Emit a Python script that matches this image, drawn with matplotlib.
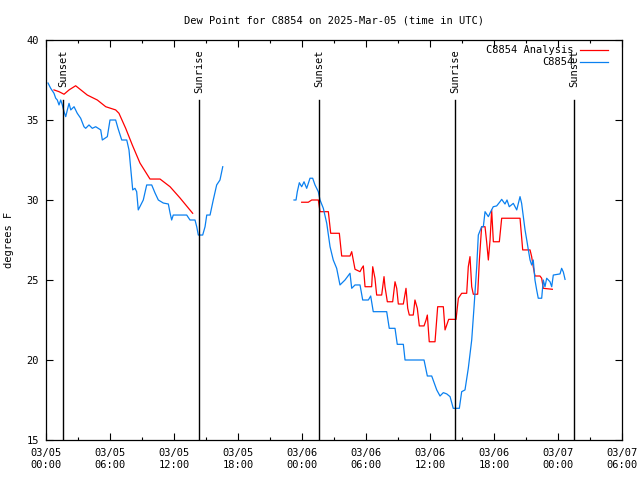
import datetime as dt
import numpy as np
import matplotlib
matplotlib.use("Agg")
import matplotlib.pyplot as plt
import matplotlib.dates as mdates

BASE = dt.datetime(2025, 3, 5, 0, 0)

# Observed dew point (C8854), hours since 03/05 00:00 UTC, degrees F
obs1_h = [0.19, 0.44, 0.75, 0.91, 1.06, 1.22, 1.38, 1.53, 1.69, 1.85, 2.0, 2.16, 2.32, 2.63, 2.93,
          3.25, 3.56, 3.72, 4.03, 4.34, 4.66, 5.13, 5.28, 5.75, 6.0, 6.53, 6.75, 7.10, 7.57, 7.78,
          8.13, 8.34, 8.50, 8.65, 9.12, 9.44, 9.91, 10.22, 10.53, 11.0, 11.47, 11.63, 11.78, 11.93,
          12.56, 13.19, 13.5, 13.97, 14.13, 14.28, 14.69, 14.91, 15.07, 15.38, 15.68, 16.0, 16.31, 16.57]
obs1_v = [37.31, 36.98, 36.67, 36.36, 36.25, 35.94, 36.25, 35.94, 35.52, 35.21, 35.63, 36.04, 35.63, 35.83, 35.42,
          35.11, 34.58, 34.48, 34.69, 34.48, 34.58, 34.38, 33.75, 33.96, 35.0, 35.0, 34.48, 33.75, 33.75, 33.13,
          30.63, 30.73, 30.52, 29.38, 30.0, 30.94, 30.94, 30.44, 30.0, 29.81, 29.75, 29.19, 28.75, 29.06,
          29.06, 29.06, 28.75, 28.75, 28.33, 27.81, 27.81, 28.33, 29.06, 29.06, 30.0, 30.94, 31.25, 32.08]

obs2_h = [23.25, 23.44, 23.56, 23.75, 23.97, 24.19, 24.44, 24.75, 25.0, 25.22, 25.53, 25.69, 26.0, 26.32,
          26.63, 26.93, 27.25, 27.56, 28.03, 28.5, 28.66, 28.97, 29.44, 29.69, 30.22, 30.44, 30.68, 31.94,
          32.18, 32.72, 32.93, 33.5, 33.66, 35.44, 35.75, 36.16, 36.63, 36.94, 37.25, 37.57, 37.88, 38.18,
          38.75, 38.97, 39.28, 39.59, 39.91, 40.13, 40.38, 40.53, 40.84, 41.0, 41.16, 41.47, 41.69, 41.93,
          42.25, 42.56, 42.72, 43.03, 43.22, 43.43, 43.81, 44.13, 44.44, 44.59, 44.75, 44.91, 45.07, 45.22,
          45.38, 45.53, 45.68, 45.84, 46.0, 46.15, 46.47, 46.62, 46.78, 46.94, 47.25, 47.41, 47.56, 48.19,
          48.34, 48.5, 48.66]
obs2_v = [30.0, 30.0, 30.52, 31.08, 30.83, 31.14, 30.73, 31.36, 31.36, 30.94, 30.52, 30.0, 29.48, 28.54,
          27.08, 26.25, 25.73, 24.69, 25.0, 25.42, 24.48, 24.69, 24.69, 23.75, 23.75, 24.0, 23.02, 23.02,
          21.98, 21.98, 20.98, 20.98, 20.0, 20.0, 19.0, 19.0, 18.13, 17.75, 17.96, 17.88, 17.71, 16.98,
          16.98, 18.02, 18.13, 19.48, 21.25, 23.33, 25.83, 27.81, 28.33, 28.33, 29.27, 28.96, 29.27, 29.58,
          29.63, 29.89, 30.04, 29.75, 30.0, 29.58, 29.79, 29.38, 30.21, 29.79, 28.96, 28.13, 27.5, 26.88,
          26.25, 25.94, 26.25, 25.0, 24.38, 23.86, 23.86, 25.0, 24.58, 25.11, 24.89, 24.58, 25.31, 25.38,
          25.73, 25.5, 25.04]

# Analysis dew point (C8854 Analysis)
ana1_h = [0.75, 1.22, 1.69, 2.16, 2.78, 3.87, 4.81, 5.60, 6.53, 6.84, 7.47, 8.09, 8.81, 9.75, 10.69,
          11.63, 12.56, 13.75]
ana1_v = [36.88, 36.77, 36.61, 36.88, 37.14, 36.56, 36.25, 35.83, 35.63, 35.42, 34.48, 33.44, 32.31, 31.31,
          31.31, 30.83, 30.13, 29.17]

ana2_h = [23.97, 24.59, 24.91, 25.53, 25.69, 26.47, 26.69, 27.5, 27.72, 28.5, 28.66, 28.97, 29.44, 29.6,
          29.75, 29.91, 30.53, 30.63, 30.84, 31.0, 31.47, 31.69, 31.78, 32.0, 32.5, 32.72, 32.88, 33.03,
          33.5, 33.75, 33.91, 34.06, 34.43, 34.59, 34.81, 35.0, 35.44, 35.63, 35.75, 35.93, 36.47, 36.72,
          37.25, 37.41, 37.75, 38.44, 38.66, 38.97, 39.44, 39.59, 39.75, 39.91, 40.06, 40.47, 40.63, 40.84,
          41.16, 41.31, 41.47, 41.63, 41.78, 41.94, 42.5, 42.72, 44.44, 44.69, 45.38, 45.53, 45.68, 45.84,
          46.31, 46.47, 46.62, 47.47]
ana2_v = [29.86, 29.86, 30.0, 30.0, 29.27, 29.27, 27.92, 27.92, 26.5, 26.5, 26.77, 25.67, 25.52, 25.73,
          25.88, 24.58, 24.58, 25.83, 25.11, 24.06, 24.06, 25.21, 24.58, 23.64, 23.64, 24.89, 24.48, 23.5,
          23.5, 24.48, 23.23, 22.81, 22.81, 23.75, 23.23, 22.13, 22.13, 22.5, 22.81, 21.14, 21.14, 23.33,
          23.33, 21.88, 22.54, 22.54, 23.86, 24.17, 24.17, 25.83, 26.46, 24.58, 24.11, 24.11, 26.25, 28.33,
          28.33, 27.39, 26.25, 27.5, 29.38, 27.39, 27.39, 28.86, 28.86, 26.88, 26.88, 26.46, 25.83, 25.25,
          25.25, 25.11, 24.48, 24.42]

# Sun events (hours since 03/05 00:00 UTC)
event_names = ["Sunset", "Sunrise", "Sunset", "Sunrise", "Sunset"]
event_h = [1.59, 14.34, 25.59, 38.34, 49.5]

y_ticks = [15, 20, 25, 30, 35, 40]


def to_dt(hours):
    return [BASE + dt.timedelta(hours=h) for h in hours]


FONT = "DejaVu Sans Mono"
FS = 7.5
RED = "#ff0000"
BLUE = "#0a80f0"

fig = plt.figure(figsize=(6.4, 4.8), dpi=100)
ax = fig.add_axes([46 / 640, 40 / 480, 576 / 640, 400 / 480])

ax.plot(to_dt(ana1_h), ana1_v, color=RED, lw=0.9, label="C8854 Analysis")
ax.plot(to_dt(ana2_h), ana2_v, color=RED, lw=0.9)
ax.plot(to_dt(obs1_h), obs1_v, color=BLUE, lw=0.9, label="C8854")
ax.plot(to_dt(obs2_h), obs2_v, color=BLUE, lw=0.9)

for name, h in zip(event_names, event_h):
    t = BASE + dt.timedelta(hours=h)
    ax.plot([t, t], [15, 36.25], color="black", lw=1.0)
    ax.text(t, 39.4, name, rotation=90, ha="center", va="top", family=FONT, fontsize=FS)

ax.set_xlim(BASE, BASE + dt.timedelta(hours=54))
ax.set_ylim(15, 40)
ax.set_yticks(y_ticks)
ax.set_yticklabels([str(v) for v in y_ticks], family=FONT, fontsize=FS)

ax.xaxis.set_major_locator(mdates.HourLocator(byhour=[0, 6, 12, 18]))
ax.xaxis.set_minor_locator(mdates.HourLocator(byhour=[3, 9, 15, 21]))
ax.xaxis.set_major_formatter(mdates.DateFormatter("%m/%d\n%H:%M"))
for lbl in ax.get_xticklabels():
    lbl.set_family(FONT)
    lbl.set_fontsize(FS)

ax.tick_params(axis="both", which="both", direction="in", top=True, right=True)
ax.tick_params(axis="both", which="major", length=5, width=0.8)
ax.tick_params(axis="x", which="minor", length=2.5, width=0.8)
ax.tick_params(axis="x", which="major", pad=6)
ax.tick_params(axis="y", which="major", pad=5)
for s in ax.spines.values():
    s.set_linewidth(0.9)

ax.set_title("Dew Point for C8854 on 2025-Mar-05 (time in UTC)", family=FONT, fontsize=FS, pad=12)
ax.set_ylabel("degrees F", family=FONT, fontsize=FS, labelpad=9)

leg = ax.legend(loc="upper right", bbox_to_anchor=(1 - 9 / 576, 1.0), frameon=False,
                prop={"family": FONT, "size": FS},
                markerfirst=False, handlelength=2.7, handletextpad=0.6, borderaxespad=0.1,
                labelspacing=0.2)
for t in leg.get_texts():
    t.set_ha("right")

fig.savefig("out.png", dpi=100)
